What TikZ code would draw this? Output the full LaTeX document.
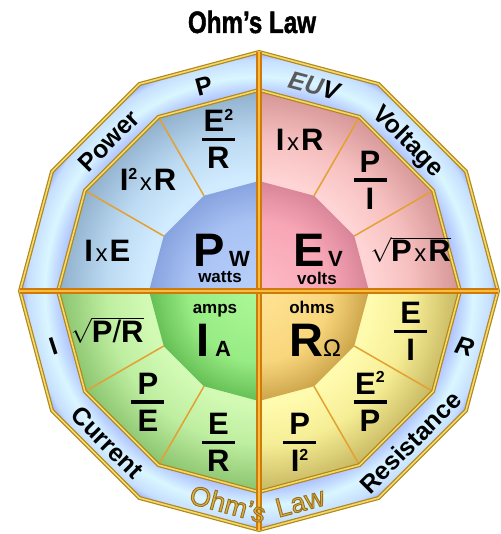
\documentclass[tikz,border=0pt]{standalone}
\usepackage{fontspec}
\setmainfont{Liberation Sans}
\newfontfamily\heavyfont{Liberation Sans}[BoldFeatures={FakeBold=1.6}]

% colours
\definecolor{ringA}{HTML}{A8BCFF}
\definecolor{ringB}{HTML}{DAF6FF}
\definecolor{ringC}{HTML}{C6DEFF}
\definecolor{ringD}{HTML}{98ACFF}
\definecolor{goldDark}{HTML}{B08818}
\definecolor{goldLight}{HTML}{F4D870}
\definecolor{quadLine}{HTML}{D07A0A}
\definecolor{quadGlow}{HTML}{F6BE40}
\definecolor{segLine}{HTML}{E4A030}
\definecolor{euvGray}{HTML}{5A5A5A}
\definecolor{lawGold}{HTML}{D8B050}
\definecolor{pwSegA}{HTML}{D2ECFF}\definecolor{pwSegB}{HTML}{BCDAF2}\definecolor{pwSegC}{HTML}{8EAECB}
\definecolor{pwMidA}{HTML}{B8D0FA}\definecolor{pwMidB}{HTML}{A8C2F4}\definecolor{pwMidC}{HTML}{86A2DE}
\definecolor{evSegA}{HTML}{FFD4D4}\definecolor{evSegB}{HTML}{F6BFBF}\definecolor{evSegC}{HTML}{D49494}
\definecolor{evMidA}{HTML}{FFBAC6}\definecolor{evMidB}{HTML}{F7A6B6}\definecolor{evMidC}{HTML}{D88498}
\definecolor{iaSegA}{HTML}{D2FAB4}\definecolor{iaSegB}{HTML}{BEEEA0}\definecolor{iaSegC}{HTML}{88C26C}
\definecolor{iaMidA}{HTML}{ACF898}\definecolor{iaMidB}{HTML}{98EC84}\definecolor{iaMidC}{HTML}{64BE54}
\definecolor{roSegA}{HTML}{FFFBAE}\definecolor{roSegB}{HTML}{F6EE96}\definecolor{roSegC}{HTML}{C6B660}
\definecolor{roMidA}{HTML}{FFE494}\definecolor{roMidB}{HTML}{F8D67C}\definecolor{roMidC}{HTML}{CCA44A}

% shadings
\pgfdeclareradialshading{ringshade}{\pgfpoint{0bp}{0bp}}{color(0bp)=(ringA); color(20.2bp)=(ringA); color(22.4bp)=(ringB); color(24.2bp)=(ringC); color(25bp)=(ringD); color(50bp)=(ringD)}
\newcommand{\quadshades}[1]{%
	\pgfdeclareradialshading{#1seg}{\pgfpoint{0bp}{0bp}}{color(0bp)=(#1SegA); color(14bp)=(#1SegA); color(19bp)=(#1SegB); color(25bp)=(#1SegC); color(50bp)=(#1SegC)}%
	\pgfdeclareradialshading{#1mid}{\pgfpoint{0bp}{0bp}}{color(0bp)=(#1MidA); color(16bp)=(#1MidB); color(25bp)=(#1MidC); color(50bp)=(#1MidC)}}
\quadshades{pw}\quadshades{ev}\quadshades{ia}\quadshades{ro}

% fonts and bits of text
\newcommand{\segfont}{\fontsize{31}{33}\selectfont\bfseries}
\newcommand{\ringfont}{\fontsize{25}{26}\selectfont\bfseries}
\newcommand{\bigfont}{\fontsize{47}{48}\selectfont\bfseries}
\newcommand{\unitfont}{\fontsize{22}{22}\selectfont\bfseries}
\newcommand{\wordfont}{\fontsize{17}{18}\selectfont\bfseries}
\newcommand{\tms}{{\fontsize{24}{24}\selectfont\mdseries\hspace{2.5pt}x\hspace{2pt}}}
\newcommand{\sq}{\raisebox{11.5pt}[0pt][0pt]{\fontsize{16}{16}\selectfont 2}}
\newcommand{\fr}[2]{\shortstack{#1\\[3pt]\rule{33pt}{3.5pt}\\[3pt]#2}}
\newcommand{\rt}[1]{$\sqrt{\mbox{#1}}$}
\newcommand{\goldtext}[1]{\special{pdf:literal direct 2 Tr 0.9 w 0.6 0.44 0.1 RG}#1\special{pdf:literal direct 0 Tr}}
\newcommand{\dodeca}[1]{(0:#1) \foreach \a in {30,60,...,330}{-- (\a:#1)} -- cycle}

\tikzset{
	titletext/.style={font=\fontsize{31}{32}\selectfont\heavyfont\bfseries, xscale=0.78, inner sep=0pt},
	ringword/.style={font=\ringfont, inner sep=0pt, text height=18pt, text depth=0pt},
	lawword/.style={font=\fontsize{27}{27}\selectfont, text=lawGold, inner sep=0pt, text height=19pt, text depth=0pt},
	seg/.style={font=\segfont, inner sep=0pt, text height=22pt, text depth=0pt},
	segfrac/.style={font=\segfont, inner sep=0pt},
	bigletter/.style={font=\bigfont, inner sep=0pt, anchor=base west},
	unitletter/.style={font=\unitfont, inner sep=0pt, anchor=base west},
	unitword/.style={font=\wordfont, inner sep=0pt, anchor=base},
	segline/.style={draw=segLine, line width=1.5pt},
	goldrim/.style={draw=goldDark, double=goldLight, double distance=1.6pt, line width=1.2pt},
	quadline/.style={draw=quadLine, double=quadGlow, double distance=2pt, line width=1.6pt}
}

\begin{document}
\begin{tikzpicture}[x=1pt,y=1pt]
	\useasboundingbox (-259,-243) rectangle (241,291);
	\node[titletext, anchor=base] (title) at (-7,258) {Ohm’s Law};

	% ring and the four quarters
	\shade[shading=ringshade] \dodeca{239};
	\begin{scope}
		\clip (0,0) rectangle (-245,245);
		\shade[shading=pwseg] \dodeca{201};
		\shade[shading=pwmid] \dodeca{110};
	\end{scope}
	\begin{scope}
		\clip (0,0) rectangle (245,245);
		\shade[shading=evseg] \dodeca{201};
		\shade[shading=evmid] \dodeca{110};
	\end{scope}
	\begin{scope}
		\clip (0,0) rectangle (-245,-245);
		\shade[shading=iaseg] \dodeca{201};
		\shade[shading=iamid] \dodeca{110};
	\end{scope}
	\begin{scope}
		\clip (0,0) rectangle (245,-245);
		\shade[shading=roseg] \dodeca{201};
		\shade[shading=romid] \dodeca{110};
	\end{scope}
	\foreach \a in {30,60,120,150,210,240,300,330}
		\draw[segline] (\a:110) -- (\a:201);
	\draw[goldrim] \dodeca{201};
	\draw[goldrim] \dodeca{239};
	\coordinate (qTop) at (90:239);
	\coordinate (qBot) at (270:239);
	\coordinate (qLeft) at (180:239);
	\coordinate (qRight) at (0:239);
	\draw[quadline] (qTop) -- (qBot);
	\draw[quadline] (qLeft) -- (qRight);

	% words round the ring
	\node[ringword, rotate=15] (ringP) at (105:213) {P};
	\node[ringword, rotate=45] (ringPower) at (135:213) {Power};
	\node[ringword, font=\ringfont\itshape, rotate=-15] (ringEUV) at (75:213) {\textcolor{euvGray}{EU}V};
	\node[ringword, rotate=-45] (ringVoltage) at (45:213) {Voltage};
	\node[ringword, font=\ringfont\itshape, rotate=-15] (ringR) at (-15:213) {R};
	\node[ringword, rotate=45] (ringResistance) at (-45:214) {Resistance};
	\node[ringword, rotate=-45] (ringCurrent) at (-135:214) {Current};
	\node[ringword, rotate=18] (ringI) at (195:213) {I};
	\node[lawword, rotate=-15] (lawOhm) at (-31,-213) {\goldtext{Ohm’s}};
	\node[lawword, rotate=15] (lawLaw) at (41,-211) {\goldtext{Law}};

	% power
	\node[bigletter] (pw) at (-66,24) {P};
	\node[unitletter] (pwUnit) at (-30,24) {W};
	\node[unitword] (pwWord) at (-39,8) {watts};
	\node[segfrac] (pwA) at (105:157) {\fr{E\sq}{R}};
	\node[seg] (pwB) at (135:157) {I\sq\tms R};
	\node[seg] (pwC) at (165:157) {I\tms E};
	% voltage
	\node[bigletter] (ev) at (34,24) {E};
	\node[unitletter] (evUnit) at (69,24) {V};
	\node[unitword] (evWord) at (58,6) {volts};
	\node[seg] (evA) at (75:157) {I\tms R};
	\node[segfrac] (evB) at (45:157) {\fr{P}{I}};
	\node[seg] (evC) at (15:157) {\rt{P\tms R}};
	% current
	\node[unitword] (iaWord) at (-44,-23) {amps};
	\node[bigletter] (ia) at (-63,-66) {I};
	\node[unitletter] (iaUnit) at (-44,-66) {A};
	\node[seg] (iaA) at (195:157) {\rt{P{\mdseries/}R}};
	\node[segfrac] (iaB) at (225:157) {\fr{P}{E}};
	\node[segfrac] (iaC) at (255:157) {\fr{E}{R}};
	% resistance
	\node[unitword] (roWord) at (53,-23) {ohms};
	\node[bigletter] (ro) at (30,-66) {R};
	\node[unitletter, font=\fontsize{24}{24}\selectfont\mdseries] (roUnit) at (64,-66) {Ω};
	\node[segfrac] (roA) at (345:157) {\fr{E}{I}};
	\node[segfrac] (roB) at (315:157) {\fr{E\sq}{P}};
	\node[segfrac] (roC) at (285:157) {\fr{P}{I\sq}};
\end{tikzpicture}
\end{document}
